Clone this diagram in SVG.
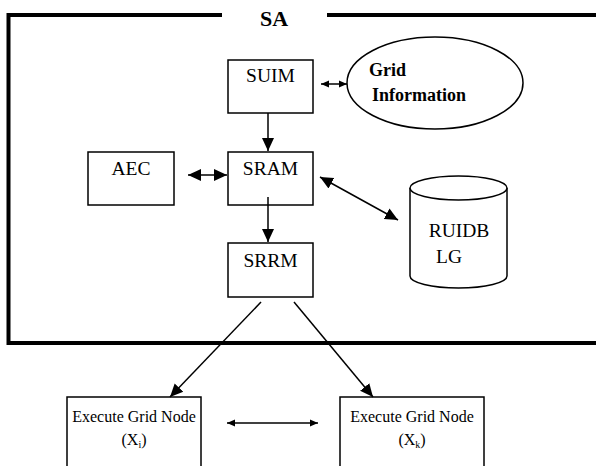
<svg xmlns="http://www.w3.org/2000/svg" width="596" height="466" viewBox="0 0 596 466">
<style>
.box{fill:#fff;stroke:#000;stroke-width:1.5}
.t{font-size:19.5px;text-anchor:middle}
.b{font-size:18px;font-weight:bold}
.s{font-size:16px;text-anchor:middle}
.c{stroke:#000;stroke-width:1.5;fill:none}
.frame{stroke:#000;stroke-width:4;fill:none}
</style>
<defs>
<marker id="ah" markerWidth="14" markerHeight="14" refX="13" refY="7" orient="auto-start-reverse" markerUnits="userSpaceOnUse">
<path d="M0,1 L13,7 L0,13 Z" fill="#000"/>
</marker>
<marker id="ahs" markerWidth="9" markerHeight="9" refX="8" refY="4.5" orient="auto-start-reverse" markerUnits="userSpaceOnUse">
<path d="M0,1 L8,4.5 L0,8 Z" fill="#000"/>
</marker>
</defs>
<g font-family="Liberation Serif, DejaVu Serif, serif" fill="#000">
<g id="frame">
<path class="frame" d="M222,15 L8.5,15 L8.5,343 L596,343"/>
<path class="frame" d="M327,15 L596,15"/>
<text x="274" y="26" font-weight="bold" text-anchor="middle" font-size="22">SA</text>
</g>
<g id="suim"><rect class="box" x="228" y="60" width="85" height="53"/><text class="t" x="270.5" y="82">SUIM</text></g>
<g id="grid"><ellipse class="box" cx="435" cy="83" rx="88" ry="46"/><text class="b" x="369" y="76">Grid</text><text class="b" x="372" y="101">Information</text></g>
<g id="aec"><rect class="box" x="88" y="152" width="86" height="53"/><text class="t" x="131" y="175">AEC</text></g>
<g id="sram"><rect class="box" x="228" y="152" width="85" height="53"/><text class="t" x="270.5" y="175">SRAM</text></g>
<g id="srrm"><rect class="box" x="228" y="243" width="85" height="54"/><text class="t" x="270.5" y="267">SRRM</text></g>
<g id="ruidb">
<path class="box" d="M410,188 L410,276 A48.5,12 0 0 0 507,276 L507,188"/>
<ellipse class="box" cx="458.5" cy="188" rx="48.5" ry="12"/>
<text class="t" x="459" y="237">RUIDB</text>
<text class="t" x="449" y="263">LG</text>
</g>
<g id="xi"><rect class="box" x="67" y="397" width="134" height="80"/><text class="s" x="134" y="422">Execute Grid Node</text><text class="s" x="134" y="445">(X<tspan font-size="10" dy="3">i</tspan><tspan dy="-3">)</tspan></text></g>
<g id="xk"><rect class="box" x="340" y="397" width="144" height="80"/><text class="s" x="412" y="422">Execute Grid Node</text><text class="s" x="412" y="445">(X<tspan font-size="10" dy="3">k</tspan><tspan dy="-3">)</tspan></text></g>
</g>
<g id="connectors">
<line class="c" x1="321" y1="84" x2="347" y2="84" marker-start="url(#ahs)" marker-end="url(#ahs)"/>
<line class="c" x1="268" y1="113" x2="268" y2="151" marker-end="url(#ah)"/>
<line class="c" x1="188" y1="175" x2="227" y2="175" marker-start="url(#ah)" marker-end="url(#ah)"/>
<line class="c" x1="320" y1="177" x2="398" y2="220" marker-start="url(#ah)" marker-end="url(#ah)"/>
<line class="c" x1="268" y1="197" x2="268" y2="242" marker-end="url(#ah)"/>
<line class="c" x1="261" y1="302" x2="170" y2="397" marker-end="url(#ah)"/>
<line class="c" x1="294" y1="302" x2="373" y2="397" marker-end="url(#ah)"/>
<line class="c" x1="227" y1="423" x2="318" y2="423" marker-start="url(#ahs)" marker-end="url(#ahs)"/>
</g>
</svg>
